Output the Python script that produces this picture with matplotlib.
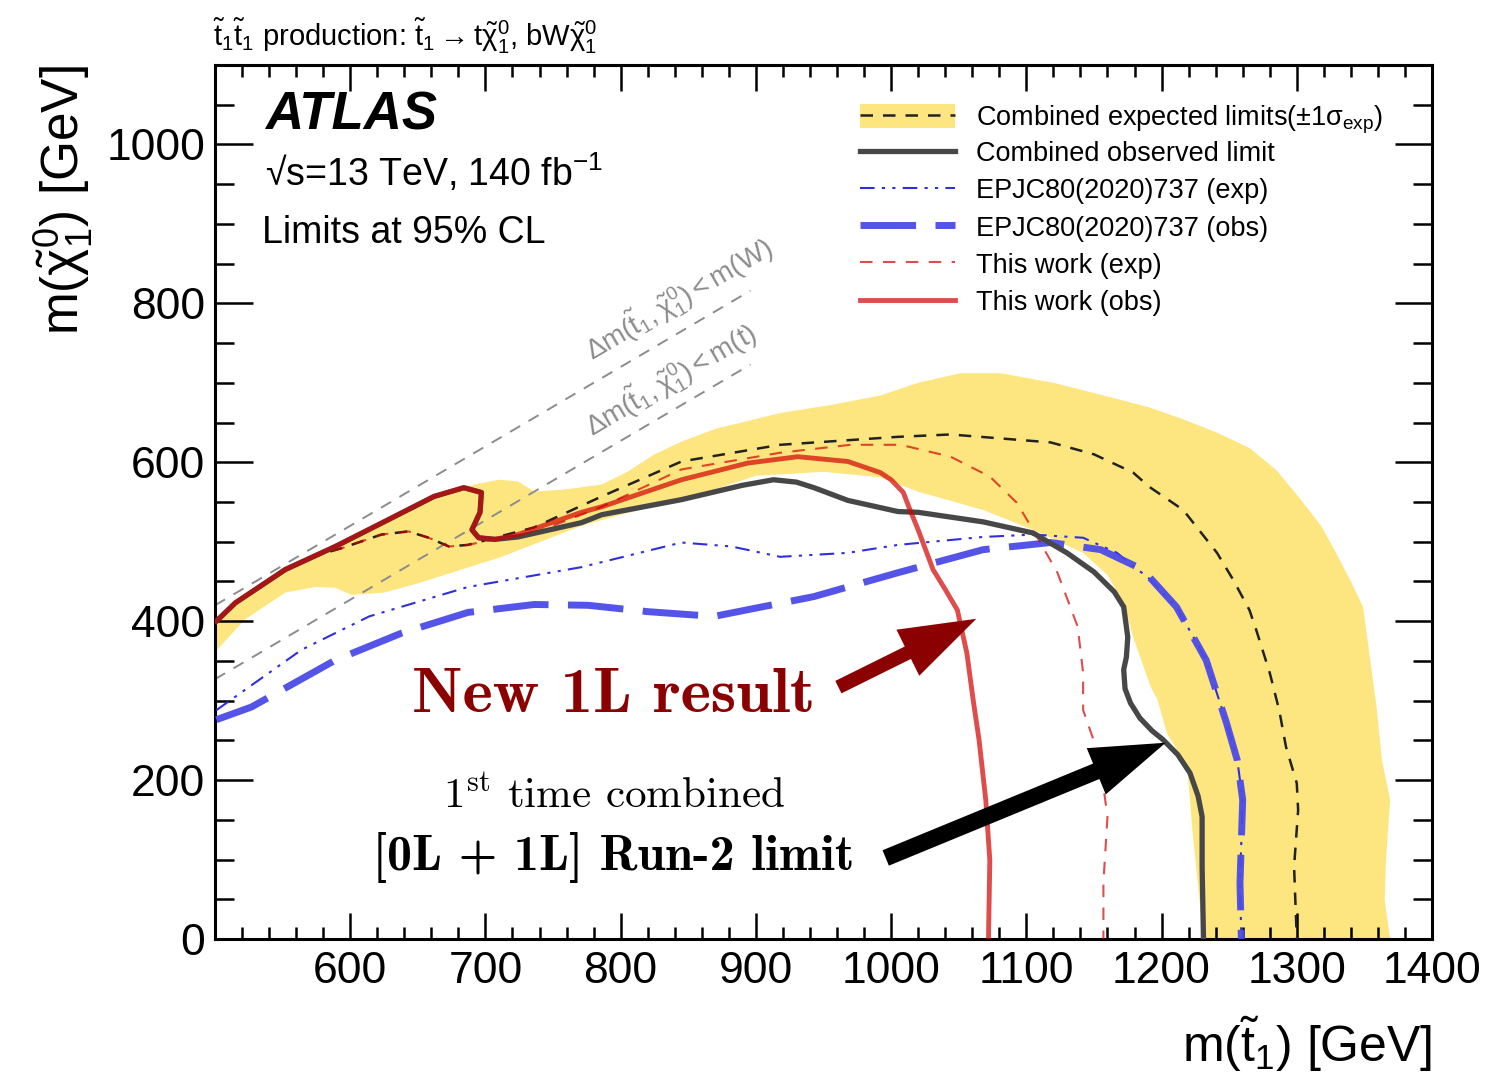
import numpy as np
import matplotlib
matplotlib.use("Agg")
import matplotlib.pyplot as plt
from matplotlib.patches import Patch
from matplotlib.ticker import MultipleLocator

plt.rcParams['font.family'] = ['Liberation Sans', 'DejaVu Sans']
plt.rcParams['mathtext.fontset'] = 'custom'
plt.rcParams['mathtext.rm'] = 'Liberation Sans'
plt.rcParams['mathtext.it'] = 'Liberation Sans'
plt.rcParams['mathtext.bf'] = 'Liberation Sans:bold'

# +-1 sigma band of the combined expected limit (outer and inner edge)
band_out_x = [500, 515, 552, 589, 625, 662, 692, 710, 724, 736, 760, 786, 805, 825, 845,
              870, 918, 955, 992, 1020, 1051, 1081, 1120, 1155, 1191, 1216, 1240, 1265,
              1285, 1302, 1318, 1329, 1340, 1349, 1354, 1359, 1363, 1369, 1366, 1365, 1369]
band_out_y = [400, 422, 465, 494, 525, 556, 572, 578, 576, 563, 566, 572, 588, 610, 626,
              642, 662, 672, 684, 700, 712, 712, 700, 685, 669, 654, 638, 618, 590, 555,
              520, 486, 450, 418, 355, 292, 225, 175, 100, 49, 0]
band_in_x = [500, 522, 552, 574, 589, 601, 625, 651, 712, 771, 800, 845, 900, 950, 992,
             1020, 1068, 1105, 1142, 1160, 1172, 1179, 1192, 1197, 1204, 1219, 1223, 1231]
band_in_y = [361, 402, 436, 443, 442, 433, 436, 448, 481, 520, 534, 552, 583, 588, 581,
             563, 540, 515, 486, 458, 423, 380, 317, 301, 259, 217, 133, 0]

# combined expected / observed
comb_exp_x = [501, 515, 552, 571, 594, 623, 643, 658, 673, 687, 707, 736, 786, 845, 918,
              1005, 1044, 1081, 1118, 1150, 1179, 1191, 1216, 1241, 1253, 1265, 1270, 1280,
              1287, 1292, 1300, 1301, 1298, 1300]
comb_exp_y = [400, 423, 465, 481, 492, 509, 513, 505, 494, 496, 505, 518, 557, 601, 622,
              632, 635, 630, 625, 610, 587, 569, 540, 486, 452, 414, 389, 335, 288, 242,
              196, 162, 91, 0]
comb_obs_x = [501, 515, 552, 589, 625, 662, 684, 697, 696, 690, 695, 707, 724, 771, 786,
              845, 890, 913, 930, 943, 968, 1005, 1020, 1068, 1105, 1130, 1150, 1165, 1172,
              1175, 1174, 1172, 1173, 1177, 1184, 1193, 1201, 1212, 1221, 1227, 1230, 1230,
              1231]
comb_obs_y = [400, 423, 465, 494, 525, 557, 568, 562, 537, 515, 505, 503, 506, 524, 534,
              553, 571, 578, 575, 568, 552, 538, 537, 525, 511, 486, 462, 437, 418, 380,
              355, 339, 315, 297, 278, 262, 251, 232, 209, 180, 154, 91, 0]

# EPJC80(2020)737
epjc_exp_x = [501, 564, 614, 687, 771, 845, 882, 918, 968, 1005, 1068, 1105, 1142, 1167,
              1192, 1211, 1233, 1248, 1256, 1260, 1258, 1259]
epjc_exp_y = [288, 364, 406, 443, 468, 499, 494, 481, 486, 496, 506, 509, 505, 486, 452,
              418, 351, 272, 225, 175, 71, 0]
epjc_obs_x = [501, 527, 589, 638, 687, 736, 776, 820, 869, 943, 1005, 1068, 1118, 1155,
              1186, 1211, 1233, 1248, 1256, 1260, 1258, 1259]
epjc_obs_y = [276, 292, 351, 385, 411, 421, 420, 412, 406, 431, 461, 490, 499, 490, 465,
              418, 351, 272, 225, 175, 71, 0]

# this work (1L)
work_exp_x = [501, 515, 552, 571, 594, 623, 643, 658, 673, 687, 707, 736, 786, 845, 918,
              970, 1007, 1044, 1073, 1093, 1108, 1123, 1138, 1142, 1142, 1149, 1155, 1160,
              1157, 1157]
work_exp_y = [400, 423, 465, 481, 492, 509, 513, 505, 494, 496, 503, 511, 544, 591, 612,
              622, 622, 607, 582, 549, 506, 461, 393, 335, 288, 254, 217, 154, 71, 0]
work_obs_x = [501, 515, 552, 589, 625, 662, 684, 697, 696, 690, 695, 707, 724, 749, 771,
              786, 845, 894, 931, 968, 992, 1000, 1009, 1014, 1020, 1031, 1040, 1049, 1056,
              1061, 1065, 1070, 1073, 1072]
work_obs_y = [400, 423, 465, 494, 525, 557, 568, 562, 537, 515, 505, 503, 509, 524, 537,
              544, 578, 599, 607, 601, 587, 578, 562, 540, 515, 465, 440, 414, 360, 297,
              251, 175, 99, 0]

# kinematic boundaries dm = m(W), dm = m(t)
kin_x = [500, 896]
kin_w_y = [420, 816]
kin_t_y = [327, 723]

fig = plt.figure(figsize=(14.88, 10.92), dpi=100)
ax = fig.add_axes([0.14449, 0.14011, 0.81788, 0.80037])

# yellow band
ax.fill(band_out_x + band_in_x[::-1], band_out_y + band_in_y[::-1],
        color='#fde680', lw=0, zorder=1)

# kinematic lines and their labels
ax.plot(kin_x, kin_w_y, color='#8c8c8c', lw=1.4, dashes=(6, 5), zorder=2)
ax.plot(kin_x, kin_t_y, color='#8c8c8c', lw=1.4, dashes=(6, 5), zorder=2)
ax.text(843, 805, r'$\Delta m(\tilde{t}_1,\tilde{\chi}^0_1) < m(W)$', color='#8c8c8c',
        fontsize=20, rotation=45, transform_rotates_text=True,
        rotation_mode='anchor', ha='center', va='center')
ax.text(837, 704, r'$\Delta m(\tilde{t}_1,\tilde{\chi}^0_1) < m(t)$', color='#8c8c8c',
        fontsize=20, rotation=45, transform_rotates_text=True,
        rotation_mode='anchor', ha='center', va='center')

# limit contours
l_eexp, = ax.plot(epjc_exp_x, epjc_exp_y, color='#2f2fe0', lw=1.5,
                  dashes=(7, 3.5, 1.5, 3.5, 1.5, 3.5), zorder=3)
l_eobs, = ax.plot(epjc_obs_x, epjc_obs_y, color='#4b4be8', lw=5,
                  dashes=(8, 2.8), zorder=3, alpha=0.95)
l_cexp, = ax.plot(comb_exp_x, comb_exp_y, color='#222222', lw=1.8, dashes=(5, 4), zorder=4)
l_wexp, = ax.plot(work_exp_x, work_exp_y, color='#d20000', alpha=0.7, lw=1.5,
                  dashes=(6, 5), zorder=5)
l_cobs, = ax.plot(comb_obs_x, comb_obs_y, color='#474747', lw=3.8, zorder=6)
l_wobs, = ax.plot(work_obs_x, work_obs_y, color='#d20000', lw=3.5, alpha=0.7, zorder=7)

# legend, split in two so the first (taller) row keeps the spacing even
leg_kw = dict(loc='upper left', frameon=False, fontsize=19.5, handlelength=3.5,
              handleheight=0.95, handletextpad=0.8, labelspacing=0.38,
              borderpad=0, borderaxespad=0)
band_patch = Patch(facecolor='#fde680', edgecolor='none')
leg1 = ax.legend([(band_patch, l_cexp)],
                 [r'Combined expected limits($\pm1\sigma_{\rm exp}$)'],
                 bbox_to_anchor=(0.530, 0.956), **leg_kw)
ax.add_artist(leg1)
ax.legend([l_cobs, l_eexp, l_eobs, l_wexp, l_wobs],
          ['Combined observed limit', 'EPJC80(2020)737 (exp)', 'EPJC80(2020)737 (obs)',
           'This work (exp)', 'This work (obs)'],
          bbox_to_anchor=(0.530, 0.914), **leg_kw)

# arrows with the annotation texts
ax.annotate('', xy=(1063, 403), xytext=(961, 317),
            arrowprops=dict(arrowstyle='simple,head_length=5.5,head_width=3.7,tail_width=1.0',
                            mutation_scale=10, fc='#8b0000', ec='none',
                            shrinkA=0, shrinkB=0), zorder=8)
ax.annotate('', xy=(1203, 247), xytext=(996, 102),
            arrowprops=dict(arrowstyle='simple,head_length=5.4,head_width=3.6,tail_width=1.2',
                            mutation_scale=10, fc='black', ec='none',
                            shrinkA=0, shrinkB=0), zorder=8)
ax.text(795, 306, 'New 1L result', color='#8b0000', fontsize=46.5,
        family='cmb10', ha='center', va='center')
ax.text(795, 180, r'$1^{\rm st}$ time combined', fontsize=31, family='cmr10',
        math_fontfamily='cm', ha='center', va='center')
ax.text(795, 103, '[0L + 1L] Run-2 limit', fontsize=36, family='cmb10',
        ha='center', va='center')

# ATLAS labels
ax.text(0.041, 0.926, 'ATLAS', transform=ax.transAxes, fontsize=38,
        fontweight='bold', fontstyle='italic', va='baseline')
ax.text(0.041, 0.862, '\u221As=13 TeV, 140 fb$^{-1}$', transform=ax.transAxes,
        fontsize=27, va='baseline')
ax.text(0.039, 0.796, 'Limits at 95% CL', transform=ax.transAxes, fontsize=27,
        va='baseline')
fig.text(0.143, 0.958,
         r'$\tilde{t}_1\tilde{t}_1$ production: $\tilde{t}_1 \rightarrow t\tilde{\chi}^0_1$, $bW\tilde{\chi}^0_1$',
         fontsize=21, va='baseline')

# axes
ax.set_xlim(500, 1400)
ax.set_ylim(0, 1100)
ax.xaxis.set_major_locator(MultipleLocator(100))
ax.xaxis.set_minor_locator(MultipleLocator(20))
ax.yaxis.set_major_locator(MultipleLocator(200))
ax.yaxis.set_minor_locator(MultipleLocator(50))
ax.tick_params(axis='both', which='both', direction='in', top=True, right=True,
               width=1.8, labelsize=32)
ax.tick_params(axis='x', which='major', length=19, pad=9)
ax.tick_params(axis='x', which='minor', length=8.5)
ax.tick_params(axis='y', which='major', length=27, pad=7)
ax.tick_params(axis='y', which='minor', length=14)
ax.set_xticks([600, 700, 800, 900, 1000, 1100, 1200, 1300, 1400])
for s in ax.spines.values():
    s.set_linewidth(2.2)

ax.set_xlabel(r'm($\tilde{t}_1$) [GeV]', fontsize=36, loc='right', labelpad=16)
ax.set_ylabel(r'm($\tilde{\chi}^0_1$) [GeV]', fontsize=37, loc='top', labelpad=8)

fig.savefig('out.png', dpi=100)
